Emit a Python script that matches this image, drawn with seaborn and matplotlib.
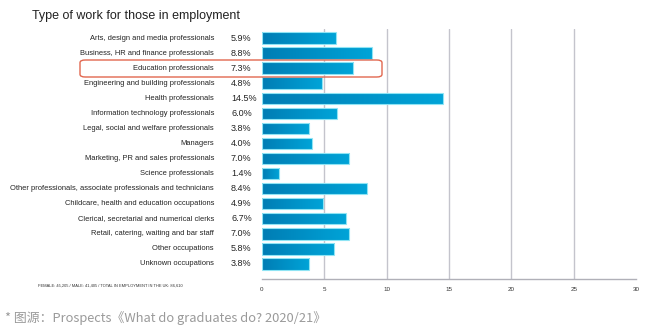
import numpy as np
import pandas as pd
import matplotlib
matplotlib.use("Agg")
import matplotlib.pyplot as plt
import seaborn as sns
from matplotlib.patches import FancyBboxPatch
from matplotlib.transforms import blended_transform_factory
from matplotlib.colors import LinearSegmentedColormap

categories = [
    "Arts, design and media professionals",
    "Business, HR and finance professionals",
    "Education professionals",
    "Engineering and building professionals",
    "Health professionals",
    "Information technology professionals",
    "Legal, social and welfare professionals",
    "Managers",
    "Marketing, PR and sales professionals",
    "Science professionals",
    "Other professionals, associate professionals and technicians",
    "Childcare, health and education occupations",
    "Clerical, secretarial and numerical clerks",
    "Retail, catering, waiting and bar staff",
    "Other occupations",
    "Unknown occupations",
]
shares = [5.9, 8.8, 7.3, 4.8, 14.5, 6.0, 3.8, 4.0, 7.0, 1.4, 8.4, 4.9, 6.7, 7.0, 5.8, 3.8]
x_ticks = [0, 5, 10, 15, 20, 25, 30]
highlight = "Education professionals"

title = "Type of work for those in employment"
footnote = "FEMALE: 45,205 / MALE: 41,405 / TOTAL IN EMPLOYMENT IN THE UK: 86,610"
source = "* 图源：Prospects《What do graduates do? 2020/21》"

df = pd.DataFrame({"category": categories, "share": shares})

sns.set_theme(style="white")
plt.rcParams["font.family"] = ["Liberation Sans", "DejaVu Sans"]

fig = plt.figure(figsize=(6.56, 3.33), dpi=100)
ax = fig.add_axes([262 / 656, 1 - 279 / 333, 374 / 656, 250 / 333])

sns.barplot(data=df, x="share", y="category", orient="h", ax=ax,
            color="#0090c8", width=0.76, edgecolor="#8fe4f4", linewidth=0.8)

ax.set_xlim(0, 30)
ax.set_ylim(len(categories) - 1 + 1.0, -0.6)

# horizontal blue gradient inside each bar
grad_cmap = LinearSegmentedColormap.from_list("bar", ["#007db4", "#00a4d8"])
grad = np.linspace(0, 1, 256).reshape(1, -1)
for patch in ax.patches:
    x0, y0 = patch.get_x(), patch.get_y()
    w, h = patch.get_width(), patch.get_height()
    im = ax.imshow(grad, cmap=grad_cmap, aspect="auto",
                   extent=[x0, x0 + w, y0 + h, y0], zorder=patch.get_zorder(),
                   interpolation="bilinear")
    im.set_clip_path(patch)
    patch.set_facecolor("none")
    patch.set_zorder(patch.get_zorder() + 0.1)

# vertical grid lines
for t in x_ticks[1:-1]:
    ax.axvline(t, color="#c4c4cc", lw=1.0, zorder=0)

ax.set_xticks(x_ticks)
ax.set_xticklabels([str(t) for t in x_ticks], fontsize=4.5, color="#333333")
ax.tick_params(axis="x", direction="in", length=4, width=0.8, color="#b0b0b8", pad=6)
ax.tick_params(axis="y", left=False, labelleft=False)
ax.set_xlabel("")
ax.set_ylabel("")
for side in ["top", "right", "left"]:
    ax.spines[side].set_visible(False)
ax.spines["bottom"].set_color("#b0b0b8")
ax.spines["bottom"].set_linewidth(1.0)

# category and percentage labels
trans = blended_transform_factory(ax.transAxes, ax.transData)
for i, (cat, val) in enumerate(zip(categories, shares)):
    ax.text(-48 / 374, i, cat, transform=trans, ha="right", va="center",
            fontsize=5.4, color="#222222")
    ax.text(-31 / 374, i, f"{val:.1f}%", transform=trans, ha="left", va="center",
            fontsize=6.5, color="#222222")

# highlight box around one row
box = FancyBboxPatch((80 / 656, 1 - 77 / 333), 302 / 656, 17 / 333,
                     boxstyle="round,pad=0,rounding_size=0.008",
                     transform=fig.transFigure, fill=False,
                     edgecolor="#e2674f", linewidth=1.0)
fig.patches.append(box)

fig.text(32 / 656, 1 - 16 / 333, title, fontsize=9, color="#222222",
         ha="left", va="center")
fig.text(38 / 656, 1 - 286 / 333, footnote, fontsize=2.9, color="#333333",
         ha="left", va="center")
fig.text(5 / 656, 1 - 318 / 333, source, fontsize=9.3, color="#9a9a9a",
         ha="left", va="center", family=["Noto Sans CJK SC", "DejaVu Sans"])

fig.savefig("out.png", dpi=100, facecolor="white")
